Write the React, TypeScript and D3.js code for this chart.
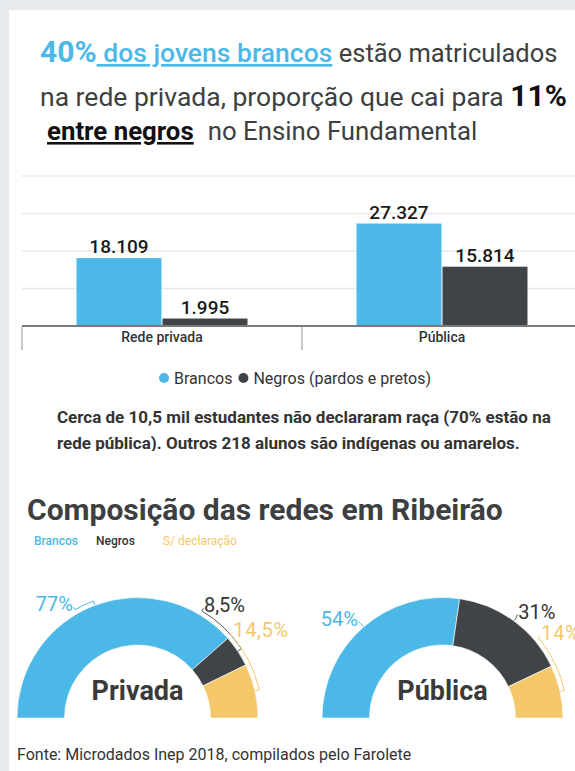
import * as d3 from "d3";
import { useEffect, useRef } from "react";

const W = 575;
const H = 771;
const BLUE = "#4cb8e8";
const DARK = "#414446";
const ORANGE = "#f4c86a";
const TEXT = "#3d3f41";
const FONT = "Roboto, sans-serif";

// grafico de barras
const categorias = ["Rede privada", "Pública"];
const series = ["Brancos", "Negros (pardos e pretos)"];
const brancos = [18109, 27327];
const negros = [1995, 15814];
const yTicks = [10000, 20000, 30000, 40000];

// composicao das redes
const redes = ["Privada", "Pública"];
const grupos = ["Brancos", "Negros", "S/ declaração"];
const privada = [77, 8.5, 14.5];
const publica = [54, 31, 14];

// angulo (graus) onde fica cada rotulo de porcentagem
const labelAngles = [
  [-30, 31, 48],
  [-41, 36, 50],
];

const ptBR = d3.formatLocale({
  decimal: ",",
  thousands: ".",
  grouping: [3],
  currency: ["R$", ""],
});
const fmt = ptBR.format(",");

const App = () => {
  const svgRef = useRef(null);

  useEffect(() => {
    const svg = d3.select(svgRef.current);
    svg.selectAll("*").remove();

    // fundo e cartao branco
    svg.append("rect").attr("width", W).attr("height", H).attr("fill", "#e7ebef");
    svg
      .append("rect")
      .attr("x", 9)
      .attr("y", 10)
      .attr("width", W - 9)
      .attr("height", H - 10)
      .attr("fill", "#ffffff");

    const root = svg.append("g").attr("font-family", FONT);

    // titulo
    const t1 = root.append("text").attr("x", 40).attr("y", 62).attr("font-size", 25.5).attr("fill", TEXT);
    t1.append("tspan").attr("font-weight", 700).attr("font-size", 30).attr("fill", BLUE).text("40%");
    t1.append("tspan")
      .attr("fill", BLUE)
      .attr("font-weight", 500)
      .attr("font-size", 26.5)
      .attr("text-decoration", "underline")
      .text("\u00a0dos jovens brancos");
    t1.append("tspan").text(" estão matriculados");

    const t2 = root.append("text").attr("x", 40).attr("y", 106).attr("font-size", 26.5).attr("fill", TEXT);
    t2.append("tspan").text("na rede privada, proporção que cai para ");
    t2.append("tspan").attr("font-weight", 700).attr("font-size", 30).attr("fill", "#111").text("11%");

    const t3 = root.append("text").attr("x", 47).attr("y", 140).attr("font-size", 25.8).attr("fill", TEXT);
    t3.append("tspan")
      .attr("font-weight", 700)
      .attr("fill", "#111")
      .attr("text-decoration", "underline")
      .text("entre negros");
    t3.append("tspan").attr("dx", 14).text("no Ensino Fundamental");

    // barras
    const x0 = d3.scaleBand().domain(categorias).range([22, 582]);
    const x1 = d3
      .scaleBand()
      .domain(series)
      .range([0, x0.bandwidth()])
      .paddingInner(0.012)
      .paddingOuter(0.634);
    const y = d3.scaleLinear().domain([0, 40000]).range([326, 176]);
    const color = d3.scaleOrdinal().domain(series).range([BLUE, DARK]);

    root
      .selectAll(".grid")
      .data(yTicks)
      .enter()
      .append("line")
      .attr("class", "grid")
      .attr("x1", 22)
      .attr("x2", W)
      .attr("y1", (d) => y(d))
      .attr("y2", (d) => y(d))
      .attr("stroke", "#e8e8e8")
      .attr("stroke-width", 1.5);

    const groups = root
      .selectAll(".cat")
      .data(categorias)
      .enter()
      .append("g")
      .attr("class", "cat")
      .attr("transform", (d) => `translate(${x0(d)},0)`);

    groups.each(function (c, i) {
      const g = d3.select(this);
      const vals = [brancos[i], negros[i]];
      series.forEach((s, j) => {
        g.append("rect")
          .attr("x", x1(s))
          .attr("y", y(vals[j]))
          .attr("width", x1.bandwidth())
          .attr("height", y(0) - y(vals[j]))
          .attr("fill", color(s));
        g.append("text")
          .attr("x", x1(s) + x1.bandwidth() / 2)
          .attr("y", y(vals[j]) - 5)
          .attr("text-anchor", "middle")
          .attr("font-size", 19)
          .attr("font-weight", 500)
          .attr("fill", "#1a1a1a")
          .text(fmt(vals[j]));
      });
      g.append("text")
        .attr("x", x0.bandwidth() / 2)
        .attr("y", 342)
        .attr("text-anchor", "middle")
        .attr("font-size", 14)
        .attr("font-weight", 500)
        .attr("fill", "#333")
        .text(c);
    });

    root
      .append("line")
      .attr("x1", 22)
      .attr("x2", W)
      .attr("y1", y(0))
      .attr("y2", y(0))
      .attr("stroke", "#7a7a7a")
      .attr("stroke-width", 2);

    root
      .selectAll(".sep")
      .data([...categorias.map((c) => x0(c)), x0.range()[1]])
      .enter()
      .append("line")
      .attr("x1", (d) => d)
      .attr("x2", (d) => d)
      .attr("y1", y(0) + 1)
      .attr("y2", 350)
      .attr("stroke", "#b8b8b8")
      .attr("stroke-width", 1.5);

    // legenda
    const leg = root.append("g");
    let lx = 0;
    series.forEach((s) => {
      leg.append("circle").attr("cx", lx + 5).attr("cy", 378).attr("r", 5).attr("fill", color(s));
      const tx = leg
        .append("text")
        .attr("x", lx + 15)
        .attr("y", 383.5)
        .attr("font-size", 16)
        .attr("fill", "#333")
        .text(s);
      lx += 15 + tx.node().getComputedTextLength() + 6;
    });
    leg.attr("transform", `translate(${298 - lx / 2},0)`);

    // nota
    svg
      .append("clipPath")
      .attr("id", "noteClip")
      .append("rect")
      .attr("x", 0)
      .attr("y", 390)
      .attr("width", W)
      .attr("height", 61);
    const note = root.append("g").attr("clip-path", "url(#noteClip)");
    ["Cerca de 10,5 mil estudantes não declararam raça (70% estão na", "rede pública). Outros 218 alunos são indígenas ou amarelos."].forEach(
      (l, i) => {
        note
          .append("text")
          .attr("x", 57)
          .attr("y", 423 + i * 26)
          .attr("font-size", 17)
          .attr("font-weight", 700)
          .attr("fill", "#333")
          .text(l);
      }
    );

    // composicao
    root
      .append("text")
      .attr("x", 27)
      .attr("y", 520)
      .attr("font-size", 30)
      .attr("font-weight", 700)
      .attr("fill", TEXT)
      .text("Composição das redes em Ribeirão");

    const donutColor = d3.scaleOrdinal().domain(grupos).range([BLUE, DARK, ORANGE]);
    const leaderColor = d3.scaleOrdinal().domain(grupos).range([BLUE, "#555", ORANGE]);
    const miniX = [34, 96, 163];
    grupos.forEach((g, i) => {
      root
        .append("text")
        .attr("x", miniX[i])
        .attr("y", 545)
        .attr("font-size", 12)
        .attr("font-weight", i < 2 ? 500 : 400)
        .attr("fill", i === 1 ? "#333" : donutColor(g))
        .text(g);
    });

    const cy = 718;
    const rOut = 120.5;
    const rIn = 73;
    const centers = [137.5, 442.5];
    const pie = d3
      .pie()
      .sort(null)
      .startAngle(-Math.PI / 2)
      .endAngle(Math.PI / 2);
    const arc = d3.arc().innerRadius(rIn).outerRadius(rOut);
    const pt = (cx, a, r) => [cx + r * Math.sin(a), cy - r * Math.cos(a)];

    [privada, publica].forEach((vals, k) => {
      const cx = centers[k];
      const arcs = pie(vals);
      const g = root.append("g").attr("transform", `translate(${cx},${cy})`);
      g.selectAll("path")
        .data(arcs)
        .enter()
        .append("path")
        .attr("d", arc)
        .attr("fill", (d, i) => donutColor(grupos[i]))
        .attr("stroke", "#fff")
        .attr("stroke-width", 0.6);

      arcs.forEach((d, i) => {
        const la = (labelAngles[k][i] * Math.PI) / 180;
        const mid = (d.startAngle + d.endAngle) / 2;
        const rl = 125;
        const p = d3.path();
        const s0 = pt(cx, la, rl + 3);
        p.moveTo(s0[0], s0[1]);
        const s1 = pt(cx, la, rl);
        p.lineTo(s1[0], s1[1]);
        p.arc(cx, cy, rl, la - Math.PI / 2, mid - Math.PI / 2, mid < la);
        const s2 = pt(cx, mid, rl - 4);
        p.lineTo(s2[0], s2[1]);
        root
          .append("path")
          .attr("d", p.toString())
          .attr("fill", "none")
          .attr("stroke", leaderColor(grupos[i]))
          .attr("stroke-width", 1);

        const lp = pt(cx, la, 129);
        root
          .append("text")
          .attr("x", lp[0])
          .attr("y", lp[1] + 5)
          .attr("text-anchor", la < 0 ? "end" : "start")
          .attr("font-size", 20)
          .attr("letter-spacing", i === 2 ? 0.6 : 0)
          .attr("fill", i === 1 ? "#333" : donutColor(grupos[i]))
          .text(fmt(vals[i]) + "%");
      });

      root
        .append("text")
        .attr("x", cx)
        .attr("y", cy - 18)
        .attr("text-anchor", "middle")
        .attr("font-size", 27)
        .attr("font-weight", 700)
        .attr("fill", "#3a3a3a")
        .text(redes[k]);
    });

    root
      .append("text")
      .attr("x", 17)
      .attr("y", 760)
      .attr("font-size", 16)
      .attr("fill", "#333")
      .text("Fonte: Microdados Inep 2018, compilados pelo Farolete");
  }, []);

  return (
    <div style={{ position: "absolute", left: 0, top: 0 }}>
      <svg ref={svgRef} width={W} height={H}></svg>
    </div>
  );
};

export default App;
